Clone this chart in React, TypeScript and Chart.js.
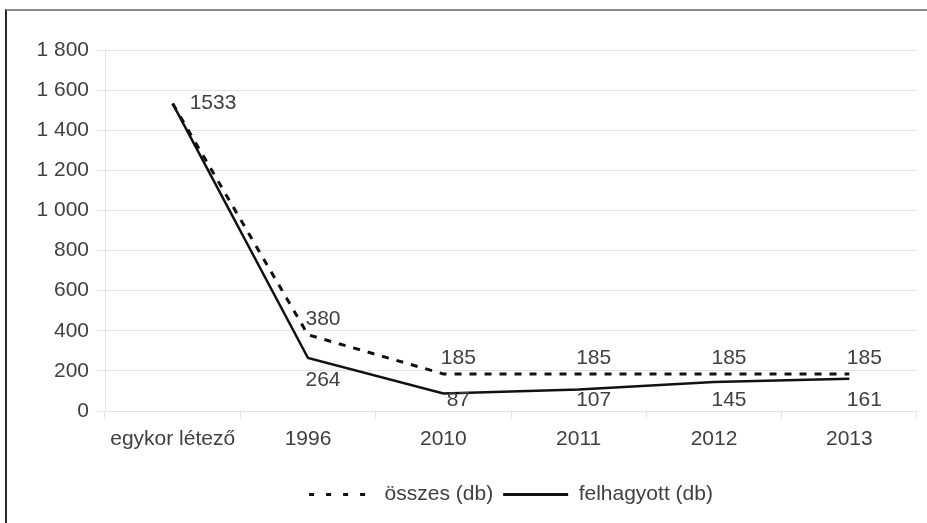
import React, { useEffect, useRef } from "react";
import { Chart, registerables } from "chart.js";

Chart.register(...registerables);

const categories = ["egykor létező", "1996", "2010", "2011", "2012", "2013"];
const osszes = [1533, 380, 185, 185, 185, 185];
const felhagyott = [1533, 264, 87, 107, 145, 161];
const seriesNames = ["összes (db)", "felhagyott (db)"];
const yMin = 0;
const yMax = 1800;
const yStep = 200;

const FONT = "'Liberation Sans', Arial, sans-serif";
const TEXT = "#404040";
const GRID = "#e3e3e3";

const fmt = (v: number) => String(v).replace(/\B(?=(\d{3})+(?!\d))/g, " ");

const labelPlugin = {
  id: "valueLabels",
  afterDatasetsDraw(chart: any) {
    const ctx = chart.ctx;
    const bottom = chart.chartArea.bottom;
    ctx.save();
    ctx.font = `21px ${FONT}`;
    ctx.fillStyle = TEXT;
    ctx.textBaseline = "middle";
    chart.data.datasets.forEach((ds: any, di: number) => {
      const meta = chart.getDatasetMeta(di);
      meta.data.forEach((pt: any, i: number) => {
        const v = ds.data[i];
        if (i === 0) {
          if (di === 0) {
            ctx.textAlign = "left";
            ctx.fillText(String(v), pt.x + 17, pt.y);
          }
          return;
        }
        ctx.textAlign = "center";
        if (di === 0) {
          ctx.fillText(String(v), pt.x + 15, pt.y - 16);
        } else {
          ctx.fillText(String(v), pt.x + 15, Math.min(pt.y + 22, bottom - 11));
        }
      });
    });
    ctx.restore();
  },
};

export default function App() {
  const ref = useRef<HTMLCanvasElement | null>(null);
  useEffect(() => {
    if (!ref.current) return;
    const chart = new Chart(ref.current, {
      type: "line",
      data: {
        labels: categories,
        datasets: [
          {
            label: seriesNames[0],
            data: osszes,
            borderColor: "#111",
            backgroundColor: "#111",
            borderWidth: 3,
            borderDash: [7, 8],
            pointRadius: 0,
            tension: 0,
          },
          {
            label: seriesNames[1],
            data: felhagyott,
            borderColor: "#111",
            backgroundColor: "#111",
            borderWidth: 2.5,
            pointRadius: 0,
            tension: 0,
          },
        ],
      },
      options: {
        animation: false,
        responsive: false,
        maintainAspectRatio: false,
        layout: { padding: { left: 0, right: 10, top: 50, bottom: 8 } },
        plugins: {
          tooltip: { enabled: false },
          legend: {
            position: "bottom",
            fullSize: false,
            labels: {
              usePointStyle: true,
              pointStyle: "line",
              pointStyleWidth: 65,
              font: { size: 21, family: FONT },
              color: TEXT,
              padding: 10,
              generateLabels: (chart: any) => {
                const items = Chart.defaults.plugins.legend.labels.generateLabels(chart);
                items.forEach((it: any) => {
                  const ds: any = chart.data.datasets[it.datasetIndex];
                  it.lineDash = ds.borderDash ? [5, 12] : [];
                  it.lineWidth = 3;
                  it.strokeStyle = "#111";
                });
                return items;
              },
            },
          },
        },
        scales: {
          x: {
            type: "category",
            offset: true,
            grid: {
              offset: true,
              drawOnChartArea: false,
              drawTicks: true,
              tickLength: 8,
              color: GRID,
            },
            border: { display: true, color: GRID },
            ticks: {
              font: { size: 21, family: FONT },
              color: TEXT,
              padding: 8,
              maxRotation: 0,
              autoSkip: false,
            },
            afterFit: (s: any) => {
              s.height = 63;
            },
          },
          y: {
            min: yMin,
            max: yMax,
            ticks: {
              stepSize: yStep,
              font: { size: 21, family: FONT },
              color: TEXT,
              padding: 8,
              callback: (v: any) => fmt(Number(v)),
            },
            grid: { color: GRID, tickLength: 8, drawTicks: true },
            border: { display: true, color: GRID },
            afterFit: (s: any) => {
              s.width = 105;
            },
          },
        },
      },
      plugins: [labelPlugin],
    });
    return () => chart.destroy();
  }, []);

  return (
    <div style={{ position: "absolute", left: 0, top: 0, width: 927, height: 523, background: "#fff" }}>
      <div
        style={{
          position: "absolute",
          left: 5,
          top: 9,
          width: 922,
          height: 514,
          borderTop: "2px solid #8a8a8a",
          borderLeft: "2px solid #2a2a2a",
          boxSizing: "border-box",
        }}
      />
      <canvas ref={ref} width={927} height={523} style={{ position: "absolute", left: 0, top: 0 }} />
    </div>
  );
}
